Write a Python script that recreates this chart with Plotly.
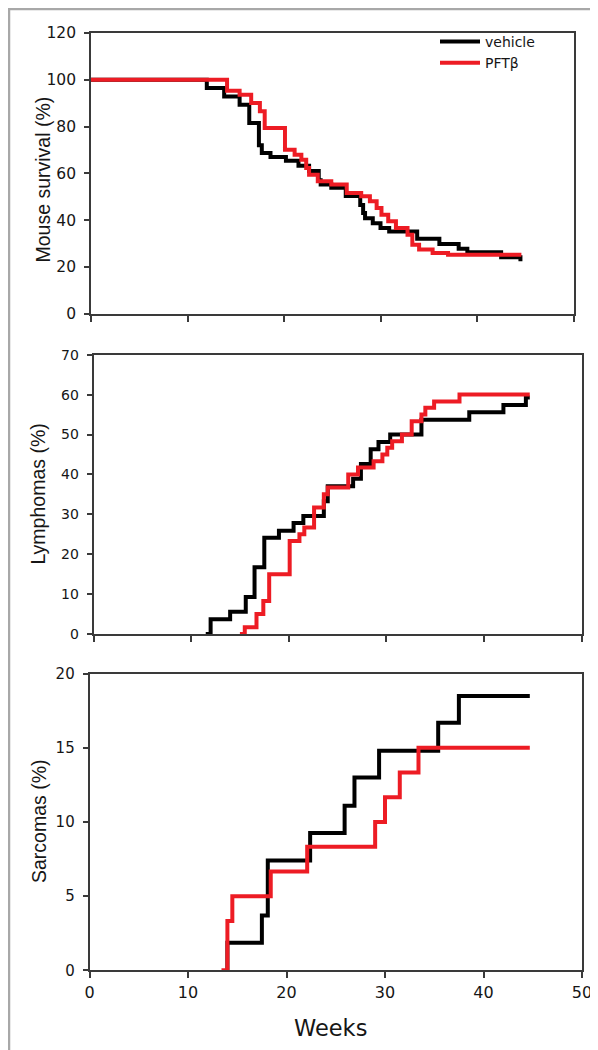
import plotly.graph_objects as go

# ---------------- data (weeks, %) ----------------
weeks_ticks = [0, 10, 20, 30, 40, 50]

surv_vehicle_t = [0, 12.0, 13.8, 15.4, 16.4, 17.4, 17.7, 18.6, 20.2, 21.5, 22.6, 23.6, 23.8, 24.9,
                  26.4, 27.9, 28.2, 28.4, 29.2, 30.0, 30.9, 33.8, 36.1, 38.1, 39.0, 42.5, 44.5]
surv_vehicle_v = [100, 96.5, 92.9, 89.3, 81.5, 72.0, 68.7, 67.0, 65.4, 63.2, 61.0, 57.0, 55.2, 53.8,
                  50.3, 46.5, 43.0, 40.8, 38.7, 36.6, 35.1, 32.0, 29.8, 27.8, 26.3, 24.1, 22.4]

surv_pft_t = [0, 14.1, 15.4, 16.6, 17.5, 18.0, 20.1, 21.1, 21.8, 22.3, 22.6, 23.5, 24.9, 26.5,
              28.0, 28.9, 29.6, 30.1, 30.8, 31.6, 32.8, 33.3, 34.0, 35.4, 37.0, 44.6]
surv_pft_v = [100, 95.3, 93.6, 90.1, 86.5, 79.4, 70.1, 68.0, 65.8, 62.3, 59.4, 56.6, 55.2, 51.6,
              50.2, 48.1, 45.2, 42.3, 39.5, 36.6, 33.8, 29.5, 27.4, 26.0, 25.2, 25.2]

lymph_vehicle_t = [11.5, 12.0, 14.0, 15.6, 16.5, 17.5, 19.0, 20.5, 21.5, 23.6, 24.0, 26.6, 27.4,
                   28.4, 29.2, 30.4, 33.6, 38.5, 42.0, 44.3, 44.7]
lymph_vehicle_v = [0, 3.7, 5.6, 9.3, 16.7, 24.1, 25.9, 27.8, 29.6, 33.3, 37.0, 38.9, 42.6,
                   46.3, 48.1, 50.0, 53.7, 55.6, 57.4, 59.3, 59.3]

lymph_pft_t = [15.0, 15.5, 16.7, 17.4, 18.0, 20.1, 21.1, 21.6, 22.6, 23.6, 24.0, 26.1, 27.1, 28.7,
               29.6, 30.1, 30.6, 31.6, 32.6, 33.6, 34.0, 34.9, 37.5, 44.7]
lymph_pft_v = [0, 1.7, 5.0, 8.3, 15.0, 23.3, 25.0, 26.7, 31.7, 35.0, 36.7, 40.0, 41.7, 43.3,
               45.0, 46.7, 48.3, 50.0, 53.3, 55.0, 56.7, 58.3, 60.0, 60.0]

sarc_vehicle_t = [13.9, 14.0, 17.5, 18.1, 22.4, 25.9, 26.9, 29.4, 35.4, 37.5, 44.7]
sarc_vehicle_v = [0, 1.85, 3.7, 7.4, 9.26, 11.1, 13.0, 14.8, 16.7, 18.5, 18.5]

sarc_pft_t = [13.4, 14.0, 14.5, 18.4, 22.1, 29.0, 30.0, 31.5, 33.4, 44.7]
sarc_pft_v = [0, 3.33, 5.0, 6.67, 8.33, 10.0, 11.67, 13.33, 15.0, 15.0]

series_names = ["vehicle", "PFTβ"]
series_colors = ["#000000", "#ED1C24"]

# ---------------- figure ----------------
W, H = 598, 1050
FONT = "Liberation Sans, Arial, sans-serif"
WIDE = "DejaVu Sans, Liberation Sans, sans-serif"
TXT = "#161616"
AXC = "#3a3a3a"

fig = go.Figure()

panels = [
    (surv_vehicle_t, surv_vehicle_v, surv_pft_t, surv_pft_v, "x", "y"),
    (lymph_vehicle_t, lymph_vehicle_v, lymph_pft_t, lymph_pft_v, "x2", "y2"),
    (sarc_vehicle_t, sarc_vehicle_v, sarc_pft_t, sarc_pft_v, "x3", "y3"),
]
for i, (vt, vv, pt, pv, xa, ya) in enumerate(panels):
    for (tt, vals), name, col in zip([(vt, vv), (pt, pv)], series_names, series_colors):
        fig.add_trace(go.Scatter(
            x=tt, y=vals, mode="lines", line=dict(color=col, width=4, shape="hv"),
            name=name, showlegend=(i == 0), xaxis=xa, yaxis=ya, hoverinfo="skip"))

def px_dom(a, b):
    return [a / W, b / W]

def py_dom(top, bottom):
    return [1 - bottom / H, 1 - top / H]

common_axis = dict(showgrid=False, zeroline=False, showline=True, mirror=True,
                   linecolor=AXC, linewidth=1.6, ticks="outside", tickcolor=AXC,
                   tickwidth=1.6, automargin=False)

x_doms = [px_dom(83, 565.5), px_dom(85.5, 573.5), px_dom(81.5, 574)]
y_doms = [py_dom(25, 305.7), py_dom(346.7, 626), py_dom(665.7, 962.3)]
y_ranges = [[0, 120], [0, 70], [0, 20]]
y_dticks = [20, 10, 5]
y_fonts = [15.5, 14, 15]

layout = dict(
    width=W, height=H, margin=dict(l=0, r=0, t=0, b=0),
    paper_bgcolor="white", plot_bgcolor="white", template="none",
    font=dict(family=FONT, color=TXT),
    showlegend=True,
    legend=dict(x=427 / W, y=1 - 18 / H, xanchor="left", yanchor="top",
                bgcolor="rgba(0,0,0,0)", borderwidth=0,
                font=dict(family=WIDE, size=14, color=TXT),
                itemwidth=40, tracegroupgap=0),
)
for i in range(3):
    sx = "" if i == 0 else str(i + 1)
    xa = dict(common_axis, domain=x_doms[i], range=[0, 50], tickvals=weeks_ticks,
              ticklen=6, anchor="y" + sx, showticklabels=(i == 2), ticklabelstandoff=1,
              tickfont=dict(family=WIDE, size=16, color=TXT))
    ya = dict(common_axis, domain=y_doms[i], range=y_ranges[i], dtick=y_dticks[i], tick0=0,
              ticklen=5, anchor="x" + sx, ticklabelstandoff=5,
              tickfont=dict(family=WIDE, size=y_fonts[i], color=TXT))
    layout["xaxis" + sx] = xa
    layout["yaxis" + sx] = ya

fig.update_layout(**layout)

# axis titles
titles = [("Mouse survival (%)", 34, 171.5), ("Lymphomas (%)", 29, 486.5), ("Sarcomas (%)", 30.5, 813.5)]
for text, xp, yp in titles:
    fig.add_annotation(text=text, x=xp / W, y=1 - yp / H, xref="paper", yref="paper",
                       textangle=-90, showarrow=False, xanchor="center", yanchor="middle",
                       font=dict(family=FONT, size=19.5, color=TXT))
fig.add_annotation(text="Weeks", x=322 / W, y=1 - 1020 / H, xref="paper", yref="paper",
                   showarrow=False, xanchor="center", yanchor="middle",
                   font=dict(family=WIDE, size=22.5, color=TXT))

# outer light-grey frame
fig.add_shape(type="rect", xref="paper", yref="paper", x0=1 / W, x1=1 - 1 / W,
              y0=1 / H, y1=1 - 1 / H, line=dict(color="#a8a8a8", width=2.5), layer="above")

fig.write_html("out.html")
